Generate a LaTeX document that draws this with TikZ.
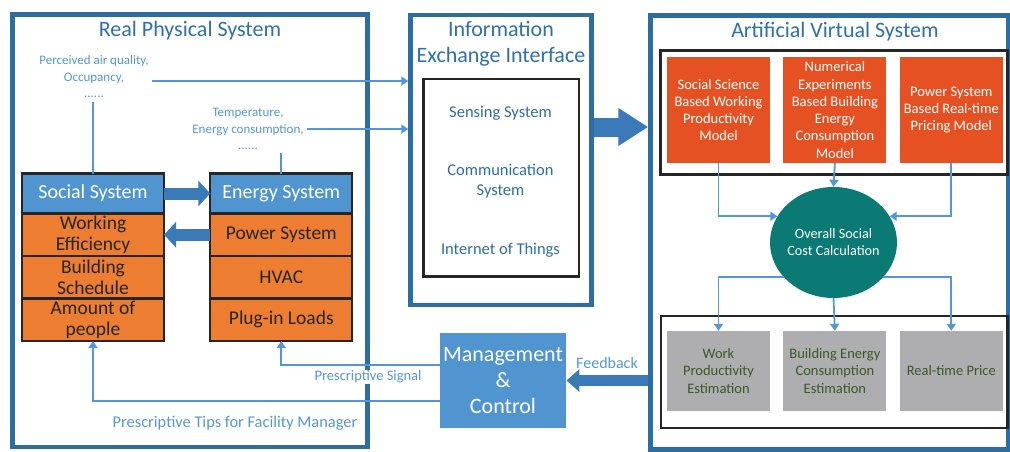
\documentclass[tikz,border=0pt]{standalone}
\usepackage{fontspec}
\setmainfont{Carlito}
\usepackage{tikz}
\usetikzlibrary{shapes,arrows.meta,chains,positioning}
\definecolor{frameblue}{RGB}{46,109,160}
\definecolor{titleblue}{RGB}{46,112,170}
\definecolor{lineblue}{RGB}{84,150,214}
\definecolor{headblue}{RGB}{80,148,208}
\definecolor{fatblue}{RGB}{58,122,183}
\definecolor{cellorange}{RGB}{237,125,49}
\definecolor{modelred}{RGB}{230,81,35}
\definecolor{calcteal}{RGB}{11,122,116}
\definecolor{estgray}{RGB}{174,174,177}
\definecolor{estgreen}{RGB}{58,88,40}
\tikzstyle{frame1}=[rectangle, draw=frameblue, line width=4.5pt]
\tikzstyle{title1}=[text=titleblue, font=\fontsize{22}{26}\selectfont, align=center]
\tikzstyle{head1}=[rectangle, draw=black!85, line width=2.2pt, outer sep=0pt, fill=headblue,
        minimum width=142pt, minimum height=40pt, text=white, font=\fontsize{20}{23}\selectfont]
\tikzstyle{cell1}=[head1, fill=cellorange, minimum height=42.5pt, text=black!85, align=center, inner sep=0pt,
        font=\fontsize{19.5}{21}\selectfont]
\tikzstyle{note1}=[text=lineblue, font=\fontsize{13}{16.5}\selectfont, align=center]
\tikzstyle{sense1}=[text=frameblue, font=\fontsize{16.5}{20}\selectfont, align=center]
\tikzstyle{bbox1}=[rectangle, draw=black!85, line width=2.5pt]
\tikzstyle{model1}=[rectangle, fill=modelred, minimum width=103pt, minimum height=106pt, text=white,
        align=center, inner sep=1pt, font=\fontsize{14.5}{17.3}\selectfont]
\tikzstyle{est1}=[model1, fill=estgray, minimum height=80pt, text=estgreen]
\tikzstyle{mgmt1}=[rectangle, fill=headblue, minimum width=126pt, minimum height=95pt, text=white,
        align=center, font=\fontsize{22}{26}\selectfont]
\tikzstyle{calc1}=[ellipse, fill=calcteal, minimum width=127pt, minimum height=111pt, inner xsep=-3pt,
        inner ysep=0pt, text=white, align=center, font=\fontsize{14.2}{17}\selectfont]
\tikzstyle{arr1}=[draw=lineblue, line width=1.8pt, -{Triangle[length=7pt,width=9pt]}]
\tikzstyle{link1}=[draw=lineblue, line width=1.8pt]
\tikzstyle{fat1}=[draw=fatblue, line width=12pt, -{Triangle[length=12pt,width=25pt]}]

\begin{document}
\begin{tikzpicture}[x=1pt, y=-1pt, start chain=1 going below, start chain=2 going below,
			node distance=0pt]
\useasboundingbox (0,0) rectangle (1010,452);
\node [frame1, minimum width=355pt, minimum height=432.5pt] (phys) at (190,230.75) {};
\node [frame1, minimum width=181pt, minimum height=290pt] (info) at (501,160) {};
\node [frame1, minimum width=357.5pt, minimum height=434pt] (virt) at (829.25,232.5) {};
\node [title1] (physt) at (190,31) {Real Physical System};
\node [title1] (infot) at (501,44) {Information\\Exchange Interface};
\node [title1] (virtt) at (835,32) {Artificial Virtual System};
\node [head1, on chain=1] (soc) at (93,193.5) {Social System};
\node [cell1, on chain=1] (work) {Working\\Efficiency};
\node [cell1, on chain=1] (sched) {Building\\Schedule};
\node [cell1, on chain=1] (amt) {Amount of\\people};
\node [head1, on chain=2] (en) at (281.3,193.5) {Energy System};
\node [cell1, on chain=2] (pow) {Power System};
\node [cell1, on chain=2] (hvac) {HVAC};
\node [cell1, on chain=2] (plug) {Plug-in Loads};
\node [note1] (perc) at (94,77) {Perceived air quality,\\Occupancy,\\......};
\node [note1] (temp) at (248,129) {Temperature,\\Energy consumption,\\......};
\node [bbox1, minimum width=155.5pt, minimum height=197.5pt] (ibox) at (501.25,177.75) {};
\node [sense1] (sens) at (500.5,113) {Sensing System};
\node [sense1] (comm) at (500.5,181) {Communication\\System};
\node [sense1] (iot) at (500.5,250) {Internet of Things};
\node [mgmt1] (mc) at (503,380.5) {Management\\\&\\Control};
\node [bbox1, minimum width=347pt, minimum height=124pt] (mbox) at (834,112.5) {};
\node [bbox1, minimum width=346.5pt, minimum height=112pt] (ebox) at (834.25,372) {};
\begin{scope}[start chain=3 going right, start chain=4 going right, node distance=13pt]
\node [model1, on chain=3] (m1) at (718.5,110) {Social Science\\Based Working\\Productivity\\Model};
\node [model1, on chain=3] (m2) {Numerical\\Experiments\\Based Building\\Energy\\Consumption\\Model};
\node [model1, on chain=3] (m3) {Power System\\Based Real-time\\Pricing Model};
\node [est1, on chain=4] (e1) at (718.5,371) {Work\\Productivity\\Estimation};
\node [est1, on chain=4] (e2) {Building Energy\\Consumption\\Estimation};
\node [est1, on chain=4] (e3) {Real-time Price};
\end{scope}
\node [calc1] (calc) at (833.5,242.5) {Overall Social\\Cost Calculation};
\draw [link1] (soc.north) -- (soc.north |- perc.south);
\draw [link1] (en.north) -- (en.north |- temp.south);
\draw [arr1] ([yshift=-4pt]perc.east) -- ([yshift=-4pt]perc.east -| info.west);
\draw [arr1] ([yshift=0pt]temp.east) -- ([yshift=0pt]temp.east -| info.west);
\draw [fat1] (soc.east) -- (en.west);
\draw [fat1] (pow.west) -- (work.east);
\draw [fat1, line width=19pt, -{Triangle[length=30pt,width=36pt]}] ([yshift=33pt]info.east) -- ([yshift=33pt]info.east -| virt.west);
\draw [fat1, line width=11pt, -{Triangle[length=13pt,width=22pt]}] (virt.west |- mc.east) -- (mc.east);
\draw [arr1] ([yshift=15.5pt]mc.west) -| (plug.south);
\draw [arr1] ([yshift=-20.5pt]mc.west) -| (amt.south);
\draw [arr1] (m1.south) |- (calc.155);
\draw [arr1] (m2.south) -- (calc.north);
\draw [arr1] (m3.south) |- (calc.25);
\draw [arr1] (calc.215) -| (e1.north);
\draw [arr1] (calc.south) -- (e2.north);
\draw [arr1] (calc.325) -| (e3.north);
\node [text=lineblue, font=\fontsize{16}{18}\selectfont] (fb) at (607,363) {Feedback};
\node [text=lineblue, fill=white, inner sep=1pt, font=\fontsize{14.5}{16}\selectfont] (sig) at (368,377) {Prescriptive Signal};
\node [text=lineblue, font=\fontsize{16.4}{18}\selectfont] (tips) at (235,423) {Prescriptive Tips for Facility Manager};
\end{tikzpicture}
\end{document}
